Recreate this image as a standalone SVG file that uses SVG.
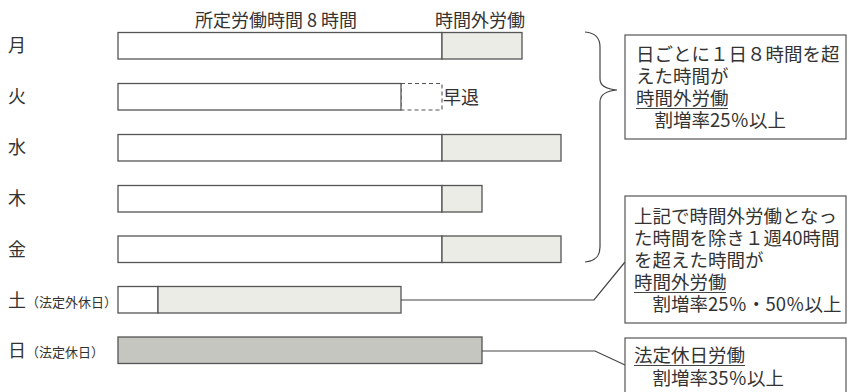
<svg xmlns="http://www.w3.org/2000/svg" width="849" height="392" viewBox="0 0 849 392">
<style>
text{font-family:"Noto Sans CJK JP","Noto Sans",sans-serif;fill:#333;}
.lbl{font-size:18px;}
.sm{font-size:13px;}
.bx{font-size:18.5px;}
.w{fill:#fff;stroke:#555;stroke-width:1.3;}
.g{fill:#ecece7;stroke:#555;stroke-width:1.3;}
.d{fill:#c6c6c1;stroke:#555;stroke-width:1.3;}
.ds{fill:none;stroke:#555;stroke-width:1.1;stroke-dasharray:4,3;}
.ln{fill:none;stroke:#444;stroke-width:1.2;}
.box{fill:#fff;stroke:#555;stroke-width:1.2;}
.ul{stroke:#444;stroke-width:1.2;}
</style>
<rect width="849" height="392" fill="#fff"/>
<g id="header">
<text class="lbl" x="195" y="27">所定労働時間 8 時間</text>
<text class="lbl" x="435" y="27">時間外労働</text>
</g>
<g id="mon">
<text class="lbl" x="8" y="52">月</text>
<rect class="w" x="118" y="32.5" width="324" height="26.5"/>
<rect class="g" x="442" y="32.5" width="80" height="26.5"/>
</g>
<g id="tue">
<text class="lbl" x="8" y="103">火</text>
<rect class="ds" x="401" y="83.5" width="41" height="26.5"/>
<rect class="w" x="118" y="83.5" width="283" height="26.5"/>
<text class="lbl" x="443" y="104">早退</text>
</g>
<g id="wed">
<text class="lbl" x="8" y="154">水</text>
<rect class="w" x="118" y="134.5" width="324" height="26.5"/>
<rect class="g" x="442" y="134.5" width="119" height="26.5"/>
</g>
<g id="thu">
<text class="lbl" x="8" y="205">木</text>
<rect class="w" x="118" y="185.5" width="324" height="26.5"/>
<rect class="g" x="442" y="185.5" width="40" height="26.5"/>
</g>
<g id="fri">
<text class="lbl" x="8" y="256">金</text>
<rect class="w" x="118" y="236" width="324" height="26.5"/>
<rect class="g" x="442" y="236" width="119" height="26.5"/>
</g>
<g id="sat">
<text x="8" y="307"><tspan class="lbl">土</tspan><tspan class="sm">（法定外休日）</tspan></text>
<rect class="w" x="118" y="286.5" width="40" height="26.5"/>
<rect class="g" x="158" y="286.5" width="243" height="26.5"/>
</g>
<g id="sun">
<text x="8" y="357"><tspan class="lbl">日</tspan><tspan class="sm">（法定休日）</tspan></text>
<rect class="d" x="118" y="337" width="364" height="26.5"/>
</g>
<g id="connectors">
<path class="ln" d="M585,32 C596,33 600,38 600,47 L600,79 C600,85 605,89 617,90 C605,91 600,95 600,102 L600,247 C600,256 596,261 585,262"/>
<polyline class="ln" points="401,300 594,300 625,262"/>
<polyline class="ln" points="482,351 595,351 625,365"/>
</g>
<g id="box1">
<rect class="box" x="625" y="35" width="221" height="104"/>
<text class="bx" x="636" y="61">日ごとに１日８時間を超</text>
<text class="bx" x="636" y="83">えた時間が</text>
<text class="bx" x="636" y="105">時間外労働</text>
<line class="ul" x1="636" y1="108.5" x2="728" y2="108.5"/>
<text class="bx" x="636" y="127">　割増率25％以上</text>
</g>
<g id="box2">
<rect class="box" x="625" y="196" width="221" height="127"/>
<text class="bx" x="634" y="223">上記で時間外労働となっ</text>
<text class="bx" x="634" y="245">た時間を除き１週40時間</text>
<text class="bx" x="634" y="267">を超えた時間が</text>
<text class="bx" x="634" y="289">時間外労働</text>
<line class="ul" x1="634" y1="292.5" x2="726" y2="292.5"/>
<text class="bx" x="634" y="311">　割増率25％・50％以上</text>
</g>
<g id="box3">
<rect class="box" x="625" y="338" width="221" height="70"/>
<text class="bx" x="634" y="362">法定休日労働</text>
<line class="ul" x1="634" y1="365.5" x2="745" y2="365.5"/>
<text class="bx" x="634" y="385">　割増率35％以上</text>
</g>
</svg>
